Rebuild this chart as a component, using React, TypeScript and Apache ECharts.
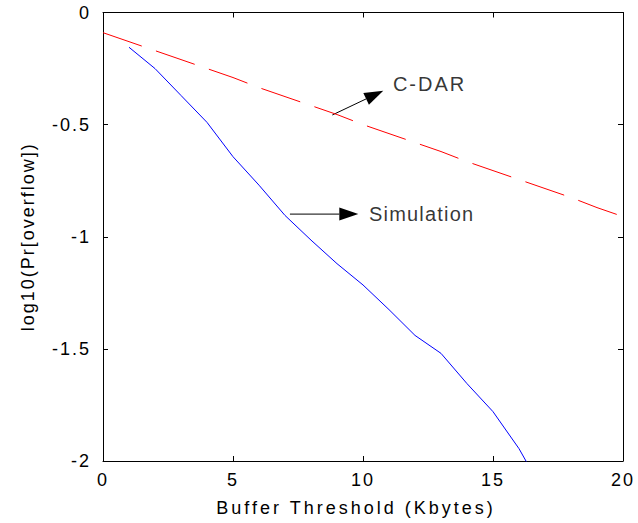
import React, { useEffect, useRef } from 'react';
import * as echarts from 'echarts';

const cdarX = [0, 1, 2, 3, 4, 5, 6, 7, 8, 9, 10, 11, 12, 13, 14, 15, 16, 17, 18, 19, 20];
const cdarY = [-0.09, -0.13, -0.17, -0.21, -0.25, -0.29, -0.335, -0.375, -0.415, -0.455, -0.5, -0.54, -0.58, -0.62, -0.665, -0.705, -0.745, -0.785, -0.825, -0.87, -0.91];

const simX = [1, 2, 3, 4, 5, 6, 7, 8, 9, 10, 11, 12, 13, 14, 15, 16, 17];
const simY = [-0.155, -0.25, -0.37, -0.49, -0.643, -0.77, -0.905, -1.015, -1.12, -1.215, -1.325, -1.44, -1.52, -1.655, -1.78, -1.945, -2.15];

const xMin = 0, xMax = 20, xStep = 5;
const yMin = -2, yMax = 0, yStep = 0.5;

// arrows: [x1, y1, x2, y2] in data units (tail -> tip)
const arrows = [
  [8.82, -0.457, 10.78, -0.349],
  [7.19, -0.899, 9.82, -0.899],
];
const labelNames = ['C-DAR', 'Simulation'];
const labelX = [11.15, 10.23];
const labelY = [-0.32, -0.9];

const FONT = 'Liberation Sans, Arial, sans-serif';
const FONT_XTITLE = 'Liberation Sans, Arial, Helvetica';
const FONT_SIM = 'Liberation Sans, Arial, Nimbus Sans';

export default function App() {
  const ref = useRef<HTMLDivElement>(null);
  useEffect(() => {
    if (!ref.current) return;
    const chart = echarts.init(ref.current, null, { renderer: 'svg' });
    const tickStyle = { show: true, inside: true, length: 5, lineStyle: { color: '#000', width: 1 } };
    const axisLine = { show: true, onZero: false, lineStyle: { color: '#000', width: 1 } };
    chart.setOption({
      animation: false,
      backgroundColor: '#fff',
      grid: { left: 103, right: 15, top: 12.5, bottom: 62, outerBoundsMode: 'none' },
      xAxis: [
        {
          type: 'value', min: xMin, max: xMax, interval: xStep, position: 'bottom',
          axisLine, axisTick: tickStyle, splitLine: { show: false },
          axisLabel: { color: '#000', fontSize: 18, fontFamily: FONT, margin: 10 },
          name: 'Buffer Threshold (Kbytes)', nameLocation: 'middle', nameGap: 38,
          nameTextStyle: { color: '#000', fontSize: 18, fontFamily: FONT_XTITLE, padding: [0, 14, 0, 0] },
        },
        {
          type: 'value', min: xMin, max: xMax, interval: xStep, position: 'top',
          axisLine, axisTick: tickStyle, splitLine: { show: false }, axisLabel: { show: false },
        },
      ],
      yAxis: [
        {
          type: 'value', min: yMin, max: yMax, interval: yStep, position: 'left',
          axisLine, axisTick: tickStyle, splitLine: { show: false },
          axisLabel: { color: '#000', fontSize: 18, fontFamily: FONT, margin: 12 },
          name: 'log10(Pr[overflow])', nameLocation: 'middle', nameGap: 66,
          nameTextStyle: { color: '#000', fontSize: 18, fontFamily: FONT },
        },
        {
          type: 'value', min: yMin, max: yMax, interval: yStep, position: 'right',
          axisLine, axisTick: tickStyle, splitLine: { show: false }, axisLabel: { show: false },
        },
      ],
      series: [
        {
          name: 'C-DAR', type: 'line', showSymbol: false, symbol: 'none',
          data: cdarX.map((x, i) => [x, cdarY[i]]),
          lineStyle: { color: '#ff0000', width: 1, type: [41, 15] },
          clip: true,
        },
        {
          name: 'Simulation', type: 'line', showSymbol: false, symbol: 'none',
          data: simX.map((x, i) => [x, simY[i]]),
          lineStyle: { color: '#0000ff', width: 1 },
          clip: true,
        },
        {
          type: 'custom', silent: true,
          encode: { x: [0, 2], y: [1, 3] },
          data: arrows,
          renderItem: (params: any, api: any) => {
            const p1 = api.coord([api.value(0), api.value(1)]);
            const p2 = api.coord([api.value(2), api.value(3)]);
            const dx = p2[0] - p1[0], dy = p2[1] - p1[1];
            const len = Math.sqrt(dx * dx + dy * dy);
            const ux = dx / len, uy = dy / len;
            const nx = -uy, ny = ux;
            const L = 19, W = 13;
            const bx = p2[0] - ux * L, by = p2[1] - uy * L;
            return {
              type: 'group',
              children: [
                { type: 'line', shape: { x1: p1[0], y1: p1[1], x2: bx, y2: by }, style: { stroke: '#000', lineWidth: 1 } },
                {
                  type: 'polygon',
                  shape: { points: [[p2[0], p2[1]], [bx + nx * W / 2, by + ny * W / 2], [bx - nx * W / 2, by - ny * W / 2]] },
                  style: { fill: '#000' },
                },
              ],
            };
          },
        },
        {
          type: 'scatter', symbolSize: 0, silent: true,
          data: labelNames.map((n, i) => ({
            value: [labelX[i], labelY[i]], name: n,
            label: { fontFamily: i === 1 ? FONT_SIM : FONT },
          })),
          label: {
            show: true, position: 'right', distance: 0, formatter: '{b}',
            color: '#000', fontSize: 20, fontFamily: FONT,
          },
        },
      ],
    });
    return () => chart.dispose();
  }, []);
  return (
    <div>
      <style>{'#chartbox text { letter-spacing: 2px; } #chartbox text[style*="Helvetica"] { letter-spacing: 3px; } #chartbox text[style*="Nimbus"] { letter-spacing: 1.2px; }'}</style>
      <div id="chartbox" ref={ref} style={{ width: 638, height: 523, position: 'absolute', left: 0, top: 0 }} />
    </div>
  );
}
